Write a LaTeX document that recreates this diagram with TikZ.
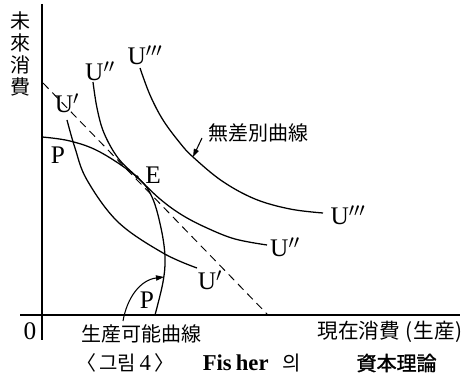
\documentclass[tikz,border=0pt]{standalone}
\usepackage{fontspec}
\setmainfont{Liberation Serif}
\newfontfamily\cjk{Noto Sans CJK KR}
\newfontfamily\cjkb[FakeBold=1.5]{Noto Sans CJK KR}
\usetikzlibrary{arrows.meta}
\begin{document}
\begin{tikzpicture}[x=0.75pt,y=-0.75pt,
  curve/.style={line width=0.95pt},
  axis/.style={line width=0.8pt},
  ulab/.style={font=\fontsize{19}{19}\selectfont, inner sep=0pt},
  cjklab/.style={font=\cjk\fontsize{15}{16.5}\selectfont, inner sep=0pt},
  pointer/.style={line width=0.8pt, -{Triangle[length=6pt,width=4pt]}},
]
\useasboundingbox (0,0) rectangle (471,381);
% axes
\draw[axis] (42,4) -- (42,340);
\draw[axis] (20,315) -- (460,315);
\node[ulab] (zero) at (30,331) {0};
\node[cjklab, align=center] (ylab) at (21,54) {未\\來\\消\\費};
\node[cjklab, anchor=east, font=\cjk\fontsize{15.5}{16}\selectfont] (xlab) at (463,332) {現在消費\hspace{0.25em}(\hspace{0.05em}生産\hspace{0.05em})};
% budget line
\coordinate (b1) at (43,83);
\coordinate (b2) at (268,315);
\draw[line width=0.7pt, dash pattern=on 6pt off 4pt] (b1) -- (b2);
% production possibility curve
\draw[curve] plot[smooth, tension=0.6] coordinates {(42,137) (70,141) (100,152) (137,177) (152,197) (161,228) (165,257) (163,282) (155,315)};
% indifference curves
\draw[curve] plot[smooth, tension=0.6] coordinates {(67,120) (75,148) (87,180) (118,222) (163,253) (197,268)};
\draw[curve] plot[smooth, tension=0.6] coordinates {(93,82) (97,108) (104,133) (118,158) (137,177) (160,199) (182,215) (207,228) (235,239) (267,245)};
\draw[curve] plot[smooth, tension=0.6] coordinates {(140,68) (150,95) (163,120) (180,143) (193,157) (222,181) (255,199) (290,209) (323,213)};
% point E
\fill (137,177) circle (1.8);
\node[ulab] (E) at (153,175) {E};
\node[ulab] (P1) at (58,155) {P};
\node[ulab] (P2) at (147,300) {P};
\node[ulab] (U1a) at (67,103) {U$'$};
\node[ulab] (U2a) at (100,71) {U$''$};
\node[ulab] (U3a) at (145,55) {U$'''$};
\node[ulab] (U1b) at (210,280) {U$'$};
\node[ulab] (U2b) at (285,247) {U$''$};
\node[ulab] (U3b) at (348,215) {U$'''$};
% labels with pointers
\node[cjklab] (ind) at (258,133) {無差別曲線};
\coordinate (indS) at (202,138);
\coordinate (indT) at (193,157);
\draw[pointer] (indS) -- (indT);
\node[cjklab] (ppc) at (141,334) {生産可能曲線};
\coordinate (ppcS) at (123,321);
\coordinate (ppcT) at (164,277);
\draw[pointer] (ppcS) .. controls (127,298) and (140,280) .. (ppcT);
% caption
\node[inner sep=0pt, anchor=west] (cap) at (76,363) {\cjk\fontsize{15}{15}\selectfont 〈\,그림\,\rmfamily\fontsize{17}{17}\selectfont 4\,\cjk\fontsize{15}{15}\selectfont〉\hspace{1.4em}\rmfamily\bfseries\fontsize{17}{17}\selectfont Fis\hspace{0.18em}her\hspace{0.6em}\mdseries\cjk\fontsize{15}{15}\selectfont 의\hspace{2.8em}\cjkb 資本理論};
\end{tikzpicture}
\end{document}
